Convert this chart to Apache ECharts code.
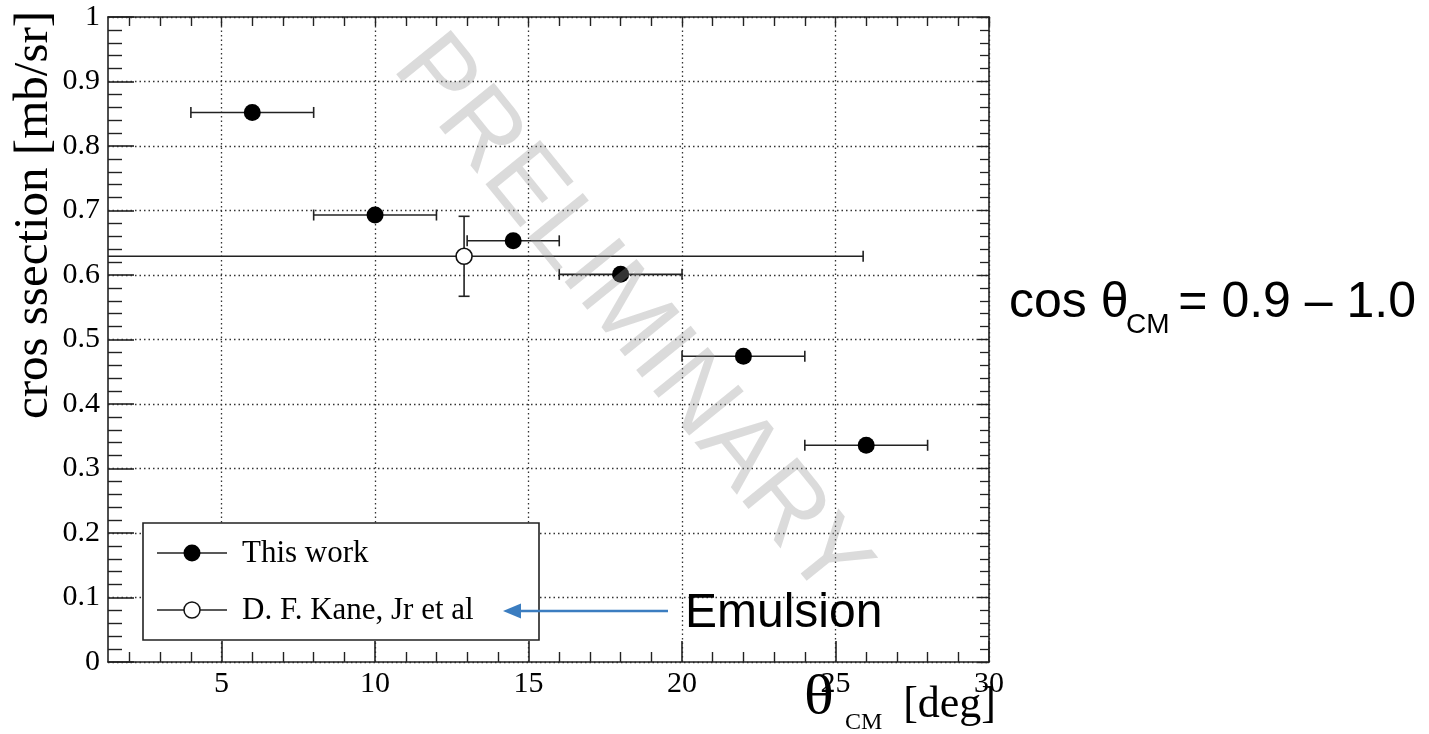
<!DOCTYPE html>
<html>
<head>
<meta charset="utf-8">
<script src="https://cdn.jsdelivr.net/npm/echarts@6/dist/echarts.min.js"></script>
<style>html,body{margin:0;padding:0;background:#fff}#chart{width:1429px;height:734px}</style>
</head>
<body>
<div id="chart"></div>
<script>
// ---- data ----
const thisWorkTheta     = [6, 10, 14.5, 18, 22, 26];
const thisWorkThetaLow  = [4, 8, 13, 16, 20, 24];
const thisWorkThetaHigh = [8, 12, 16, 20, 24, 28];
const thisWorkXsec      = [0.852, 0.693, 0.653, 0.601, 0.474, 0.336];

const kaneTheta     = [12.9];
const kaneThetaLow  = [-0.1];
const kaneThetaHigh = [25.9];
const kaneXsec      = [0.629];
const kaneXsecLow   = [0.567];
const kaneXsecHigh  = [0.691];

const xTickValues = [5, 10, 15, 20, 25, 30];
const xMinorTickValues = [2, 3, 4, 6, 7, 8, 9, 11, 12, 13, 14, 16, 17, 18, 19, 21, 22, 23, 24, 26, 27, 28, 29];
const yTickValues = [0, 0.1, 0.2, 0.3, 0.4, 0.5, 0.6, 0.7, 0.8, 0.9, 1];

const seriesNames = ['This work', 'D. F. Kane, Jr et al'];
const yAxisTitle = 'cros ssection [mb/sr]';
const annotationText = ['cos θ', 'CM', '= 0.9 – 1.0'];
const arrowLabel = 'Emulsion';
const watermark = 'PRELIMINARY';

// ---- build ----
const X_MIN = 1.3, X_MAX = 30;
const serif = '"Liberation Serif", "Times New Roman", serif';
const sans = '"Liberation Sans", Arial, sans-serif';

const thisWorkErr = thisWorkTheta.map((t, i) => [t, thisWorkXsec[i], thisWorkThetaLow[i], thisWorkThetaHigh[i], thisWorkXsec[i], thisWorkXsec[i]]);
const kaneErr = kaneTheta.map((t, i) => [t, kaneXsec[i], kaneThetaLow[i], kaneThetaHigh[i], kaneXsecLow[i], kaneXsecHigh[i]]);

function errorBars(params, api) {
  const x = api.value(0), y = api.value(1);
  const xl = api.value(2), xh = api.value(3);
  const yl = api.value(4), yh = api.value(5);
  const cap = 5.5;
  const style = { stroke: '#222', lineWidth: 1.6, fill: null };
  const L = api.coord([xl, y]), R = api.coord([xh, y]);
  const children = [
    { type: 'line', shape: { x1: L[0], y1: L[1], x2: R[0], y2: R[1] }, style },
    { type: 'line', shape: { x1: L[0], y1: L[1] - cap, x2: L[0], y2: L[1] + cap }, style },
    { type: 'line', shape: { x1: R[0], y1: R[1] - cap, x2: R[0], y2: R[1] + cap }, style }
  ];
  if (yl !== yh) {
    const B = api.coord([x, yl]), T = api.coord([x, yh]);
    children.push(
      { type: 'line', shape: { x1: B[0], y1: B[1], x2: T[0], y2: T[1] }, style },
      { type: 'line', shape: { x1: B[0] - cap, y1: B[1], x2: B[0] + cap, y2: B[1] }, style },
      { type: 'line', shape: { x1: T[0] - cap, y1: T[1], x2: T[0] + cap, y2: T[1] }, style }
    );
  }
  return { type: 'group', children };
}

const gridLine = { show: true, lineStyle: { color: '#333', width: 1.3, type: [1.5, 3] } };
const axisLineStyle = { show: true, lineStyle: { color: '#222', width: 1.6 } };

function txt(x, y, text, font, align, vAlign, extra) {
  return Object.assign({
    type: 'text', x: x, y: y, z: 20,
    style: { text: text, font: font, fill: '#000', align: align, verticalAlign: vAlign, textAlign: align, textVerticalAlign: vAlign }
  }, extra || {});
}

const option = {
  animation: false,
  backgroundColor: '#fff',
  grid: { left: 108, right: 440, top: 17, bottom: 72, containLabel: false, outerBoundsMode: 'none' },
  xAxis: [
    {
      type: 'value', position: 'bottom', min: X_MIN, max: X_MAX,
      axisLine: axisLineStyle,
      axisTick: { show: true, inside: true, length: 21, customValues: xTickValues, lineStyle: { color: '#222', width: 1.6 } },
      axisLabel: { customValues: xTickValues, fontFamily: serif, fontSize: 30, color: '#000', margin: 7 },
      splitLine: gridLine
    },
    {
      type: 'value', position: 'bottom', min: X_MIN, max: X_MAX,
      axisLine: { show: false },
      axisTick: { show: true, inside: true, length: 10, customValues: xMinorTickValues, lineStyle: { color: '#222', width: 1.4 } },
      axisLabel: { show: false },
      splitLine: { show: false }
    },
    {
      type: 'value', position: 'top', min: X_MIN, max: X_MAX,
      axisLine: axisLineStyle,
      axisTick: { show: true, inside: true, length: 9, customValues: xTickValues.concat(xMinorTickValues), lineStyle: { color: '#222', width: 1.4 } },
      axisLabel: { show: false },
      splitLine: { show: false }
    }
  ],
  yAxis: [
    {
      type: 'value', position: 'left', min: 0, max: 1, interval: 0.1,
      axisLine: axisLineStyle,
      axisTick: { show: true, inside: true, length: 26, customValues: yTickValues, lineStyle: { color: '#222', width: 1.6 } },
      minorTick: { show: true, splitNumber: 5, length: 14, lineStyle: { color: '#222', width: 1.4 } },
      axisLabel: { customValues: yTickValues, fontFamily: serif, fontSize: 30, color: '#000', margin: 8 },
      splitLine: gridLine
    },
    {
      type: 'value', position: 'right', min: 0, max: 1, interval: 0.1,
      axisLine: axisLineStyle,
      axisTick: { show: true, inside: true, length: 11, lineStyle: { color: '#222', width: 1.4 } },
      minorTick: { show: true, splitNumber: 5, length: 9, lineStyle: { color: '#222', width: 1.3 } },
      axisLabel: { show: false },
      splitLine: { show: false }
    }
  ],
  series: [
    {
      name: seriesNames[0] + ' errors', type: 'custom', renderItem: errorBars, clip: true,
      data: thisWorkErr, encode: { x: 0, y: 1 }, z: 2, silent: true
    },
    {
      name: seriesNames[1] + ' errors', type: 'custom', renderItem: errorBars, clip: true,
      data: kaneErr, encode: { x: 0, y: 1 }, z: 2, silent: true
    },
    {
      name: seriesNames[0], type: 'scatter', symbol: 'circle', symbolSize: 17, z: 4,
      itemStyle: { color: '#000', opacity: 1 },
      data: thisWorkTheta.map((t, i) => [t, thisWorkXsec[i]])
    },
    {
      name: seriesNames[1], type: 'scatter', symbol: 'circle', symbolSize: 16, z: 4,
      itemStyle: { color: '#fff', borderColor: '#111', borderWidth: 1.6, opacity: 1 },
      data: kaneTheta.map((t, i) => [t, kaneXsec[i]])
    }
  ],
  graphic: [
    // y axis title
    txt(34, 215, yAxisTitle, '49px ' + serif, 'center', 'middle', { rotation: Math.PI / 2 }),
    // x axis title
    txt(804, 699, 'θ', '54px ' + serif, 'left', 'middle', { scaleX: 1.15 }),
    txt(845, 723, 'CM', '24px ' + serif, 'left', 'middle'),
    txt(996, 705, '[deg]', '44px ' + serif, 'right', 'middle'),
    // legend box
    { type: 'rect', z: 15, shape: { x: 143, y: 523, width: 396, height: 117 }, style: { fill: '#fff', stroke: '#222', lineWidth: 1.6 } },
    { type: 'line', z: 16, shape: { x1: 157, y1: 553, x2: 227, y2: 553 }, style: { stroke: '#222', lineWidth: 1.6 } },
    { type: 'circle', z: 17, shape: { cx: 192, cy: 553, r: 8.5 }, style: { fill: '#000' } },
    { type: 'line', z: 16, shape: { x1: 157, y1: 610, x2: 227, y2: 610 }, style: { stroke: '#222', lineWidth: 1.6 } },
    { type: 'circle', z: 17, shape: { cx: 192, cy: 610, r: 8 }, style: { fill: '#fff', stroke: '#111', lineWidth: 1.5 } },
    txt(242, 554, seriesNames[0], '31px ' + serif, 'left', 'middle'),
    txt(242, 611, seriesNames[1], '31px ' + serif, 'left', 'middle'),
    // annotation arrow + label
    { type: 'line', z: 18, shape: { x1: 668, y1: 611, x2: 516, y2: 611 }, style: { stroke: '#3b7dc0', lineWidth: 2.5 } },
    { type: 'polygon', z: 18, shape: { points: [[503, 611], [521, 603.5], [521, 618.5]] }, style: { fill: '#3b7dc0' } },
    txt(685, 614, arrowLabel, '48px ' + sans, 'left', 'middle'),
    // right annotation
    txt(1009, 303, annotationText[0], '50px ' + sans, 'left', 'middle'),
    txt(1126, 325, annotationText[1], '28px ' + sans, 'left', 'middle'),
    txt(1416, 303, annotationText[2], '50px ' + sans, 'right', 'middle'),
    // watermark
    {
      type: 'text', x: 630, y: 318, rotation: -0.89, z: 30, silent: true,
      style: { text: watermark, font: '102px ' + sans, fill: 'rgba(150,150,150,0.34)', align: 'center', verticalAlign: 'middle', textAlign: 'center', textVerticalAlign: 'middle' }
    }
  ]
};

const chart = echarts.init(document.getElementById('chart'), null, { renderer: 'canvas', width: 1429, height: 734 });
chart.setOption(option);
</script>
</body>
</html>
